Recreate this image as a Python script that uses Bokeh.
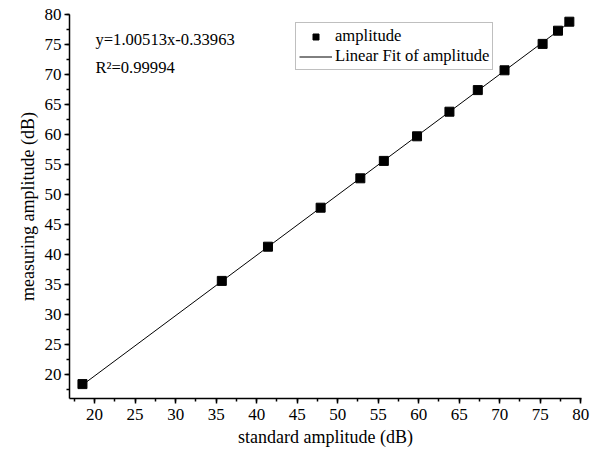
from bokeh.plotting import figure
from bokeh.models import SingleIntervalTicker, Legend, LegendItem, Label, Range1d
from bokeh.embed import file_html
from bokeh.resources import INLINE

# data
standard_amp = [18.5, 35.7, 41.4, 47.9, 52.8, 55.7, 59.8, 63.8, 67.3, 70.6, 75.3, 77.2, 78.6]
measuring_amp = [18.4, 35.6, 41.3, 47.8, 52.7, 55.6, 59.7, 63.8, 67.4, 70.7, 75.1, 77.3, 78.8]
fit_slope = 1.00513
fit_intercept = -0.33963
r_squared = 0.99994

FONT = "Liberation Serif"

p = figure(width=592, height=451, output_backend="svg", toolbar_location=None,
           x_range=Range1d(16.9, 80.1), y_range=Range1d(16, 80),
           min_border_left=69, min_border_right=11, min_border_top=14, min_border_bottom=53)
p.outline_line_color = None
p.grid.visible = False
p.background_fill_color = "white"

for ax in (p.xaxis[0], p.yaxis[0]):
    ax.ticker = SingleIntervalTicker(interval=5, num_minor_ticks=2)
    ax.axis_line_color = "black"
    ax.axis_line_width = 1.5
    ax.major_tick_line_color = "black"
    ax.major_tick_line_width = 1.5
    ax.minor_tick_line_color = "black"
    ax.minor_tick_line_width = 1.5
    ax.major_tick_in = 0
    ax.major_tick_out = 5
    ax.minor_tick_in = 0
    ax.minor_tick_out = 3
    ax.major_label_text_font = FONT
    ax.major_label_text_font_size = "17px"
    ax.major_label_text_color = "black"
    ax.axis_label_text_font = FONT
    ax.axis_label_text_font_size = "18px"
    ax.axis_label_text_font_style = "normal"
    ax.axis_label_text_color = "black"
    ax.axis_label_standoff = 4

p.xaxis.major_label_standoff = 5
p.yaxis.major_label_standoff = 3
p.xaxis.axis_label = "standard amplitude (dB)"
p.yaxis.axis_label = "measuring amplitude (dB)"

fit_x = [standard_amp[0], standard_amp[-1]]
fit_y = [fit_slope * v + fit_intercept for v in fit_x]
line_r = p.line(fit_x, fit_y, line_color="black", line_width=1)
pts_r = p.scatter(standard_amp, measuring_amp, marker="square", size=9,
                  fill_color="black", line_color="black")

legend = Legend(items=[LegendItem(label="amplitude", renderers=[pts_r]),
                       LegendItem(label="Linear Fit of amplitude", renderers=[line_r])],
                location=(226, 328), orientation="vertical")
legend.label_text_font = FONT
legend.label_text_font_size = "16.6px"
legend.label_text_color = "black"
legend.border_line_color = "#808080"
legend.border_line_width = 1
legend.padding = 3
legend.spacing = 0
legend.margin = 0
legend.glyph_width = 33
legend.glyph_height = 15
legend.label_height = 15
legend.label_standoff = 3
legend.background_fill_alpha = 1
p.add_layout(legend)

p.add_layout(Label(x=20.1, y=75.8, text=f"y={fit_slope}x{fit_intercept}",
                   text_font=FONT, text_font_size="16.6px", text_color="black",
                   text_baseline="middle"))
p.add_layout(Label(x=20.1, y=71.2, text=f"R²={r_squared}",
                   text_font=FONT, text_font_size="16.6px", text_color="black",
                   text_baseline="middle"))

open("out.html", "w").write(file_html(p, INLINE))
